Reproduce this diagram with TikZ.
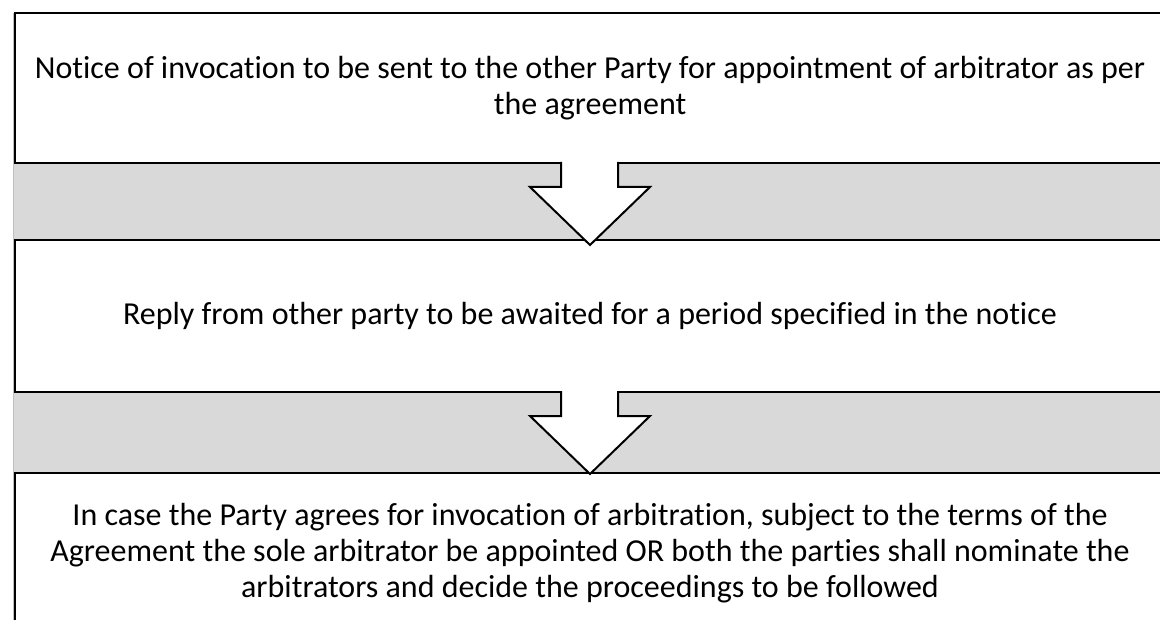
\documentclass[tikz,border=0pt]{standalone}
\usepackage{fontspec}
\setmainfont[Ligatures=NoCommon]{Carlito}
\definecolor{bandgray}{HTML}{D9D9D9}
\tikzset{
  stepbox/.style={draw, line width=1.75pt, fill=white, rectangle, anchor=north west,
    minimum width=862.5pt, outer sep=0pt, align=center,
    font=\fontsize{24pt}{27pt}\selectfont},
  blockarrow/.style={draw, line width=1.5pt, fill=white, line join=miter}
}
\begin{document}
\begin{tikzpicture}[x=0.75pt, y=-0.75pt]
        \useasboundingbox (0,0) rectangle (1160,620);
        % grey bands between the steps
        \fill [bandgray] (13,163) rectangle (1165,241);
        \fill [bandgray] (13,392) rectangle (1165,473);
        \draw [gray!50, line width=0.75pt] (13,13) -- (13,620);
        % the three steps
        \node [stepbox, minimum height=112.5pt] (notice) at (15,13)
          {Notice of invocation to be sent to the other Party for appointment of arbitrator as per\\the agreement};
        \node [stepbox, minimum height=114pt] (reply) at (15,240)
          {Reply from other party to be awaited for a period specified in the notice};
        \node [stepbox, minimum height=120pt] (consent) at (15,473)
          {In case the Party agrees for invocation of arbitration, subject to the terms of the\\Agreement the sole arbitrator be appointed OR both the parties shall nominate the\\arbitrators and decide the proceedings to be followed};
        % block arrows
        \foreach \a/\b/\t in {notice/reply/5, reply/consent/1}{
          \fill [white] ([shift={(-29,0)}]\a.south) -- ++(0,24) -- ++(-31,0)
            -- ([shift={(0,\t)}]\b.north) -- ([shift={(60,24)}]\a.south)
            -- ([shift={(28,24)}]\a.south) -- ([shift={(28,0)}]\a.south) -- cycle;
          \draw [blockarrow] ([shift={(-29,-1)}]\a.south) -- ++(0,25) -- ++(-31,0)
            -- ([shift={(0,\t)}]\b.north) -- ([shift={(60,24)}]\a.south)
            -- ([shift={(28,24)}]\a.south) -- ([shift={(28,-1)}]\a.south);
        }
      \end{tikzpicture}
\end{document}
